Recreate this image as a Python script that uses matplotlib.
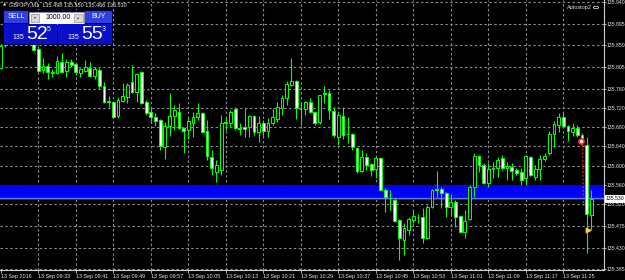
import matplotlib
matplotlib.use("Agg")
import matplotlib.pyplot as plt
from matplotlib.patches import Rectangle, Circle

# ---------------- data ----------------
time_labels = ["13 Sep 2016", "13 Sep 09:33", "13 Sep 09:41", "13 Sep 09:49", "13 Sep 09:57",
               "13 Sep 10:05", "13 Sep 10:13", "13 Sep 10:21", "13 Sep 10:29", "13 Sep 10:37",
               "13 Sep 10:45", "13 Sep 10:53", "13 Sep 11:01", "13 Sep 11:09", "13 Sep 11:17",
               "13 Sep 11:25"]
time_label_bars = [0, 8, 16, 24, 32, 40, 48, 56, 64, 72, 80, 88, 96, 104, 112, 120]

price_ticks = [135.940, 135.895, 135.850, 135.805, 135.760, 135.720, 135.680,
               135.640, 135.600, 135.560, 135.520, 135.475, 135.430, 135.385]

opens = [135.803, 135.851, 135.866, 135.874, 135.868, 135.862, 135.876, 135.859, 135.842, 135.799,
         135.807, 135.795, 135.792, 135.815, 135.797, 135.815, 135.811, 135.792, 135.797, 135.803,
         135.786, 135.799, 135.765, 135.732, 135.732, 135.703, 135.734, 135.743, 135.774, 135.753,
         135.795, 135.732, 135.712, 135.701, 135.695, 135.639, 135.682, 135.703, 135.712, 135.678,
         135.674, 135.689, 135.701, 135.709, 135.672, 135.618, 135.587, 135.591, 135.689, 135.689,
         135.718, 135.678, 135.680, 135.680, 135.703, 135.670, 135.689, 135.672, 135.689, 135.697,
         135.720, 135.741, 135.768, 135.776, 135.718, 135.718, 135.732, 135.712, 135.691, 135.749,
         135.751, 135.714, 135.660, 135.703, 135.666, 135.666, 135.637, 135.589, 135.618, 135.604,
         135.593, 135.616, 135.550, 135.533, 135.529, 135.487, 135.446, 135.467, 135.487, 135.493,
         135.493, 135.450, 135.514, 135.550, 135.552, 135.543, 135.514, 135.525, 135.496, 135.462,
         135.489, 135.556, 135.620, 135.601, 135.564, 135.593, 135.595, 135.616, 135.595, 135.597,
         135.591, 135.587, 135.574, 135.618, 135.577, 135.593, 135.614, 135.626, 135.666, 135.685,
         135.701, 135.682, 135.670, 135.678, 135.664, 135.643, 135.498]
highs = [135.853, 135.872, 135.880, 135.884, 135.878, 135.882, 135.890, 135.865, 135.849, 135.824,
         135.813, 135.801, 135.828, 135.834, 135.822, 135.822, 135.813, 135.803, 135.819, 135.815,
         135.805, 135.803, 135.774, 135.745, 135.734, 135.743, 135.772, 135.772, 135.809, 135.792,
         135.797, 135.736, 135.720, 135.709, 135.697, 135.691, 135.751, 135.726, 135.730, 135.680,
         135.699, 135.712, 135.730, 135.712, 135.695, 135.633, 135.612, 135.705, 135.701, 135.716,
         135.722, 135.689, 135.720, 135.705, 135.705, 135.703, 135.695, 135.699, 135.720, 135.732,
         135.747, 135.776, 135.824, 135.778, 135.732, 135.734, 135.741, 135.714, 135.747, 135.765,
         135.757, 135.722, 135.712, 135.722, 135.701, 135.668, 135.639, 135.633, 135.626, 135.606,
         135.618, 135.618, 135.554, 135.550, 135.533, 135.489, 135.481, 135.493, 135.508, 135.500,
         135.512, 135.518, 135.552, 135.589, 135.556, 135.545, 135.541, 135.529, 135.498, 135.508,
         135.560, 135.626, 135.622, 135.606, 135.606, 135.608, 135.618, 135.622, 135.608, 135.606,
         135.595, 135.595, 135.622, 135.620, 135.601, 135.622, 135.626, 135.672, 135.693, 135.709,
         135.712, 135.685, 135.689, 135.685, 135.668, 135.660, 135.550]
lows = [135.801, 135.846, 135.860, 135.862, 135.850, 135.858, 135.866, 135.838, 135.795, 135.792,
        135.780, 135.784, 135.790, 135.792, 135.784, 135.805, 135.788, 135.784, 135.795, 135.784,
        135.780, 135.759, 135.730, 135.722, 135.699, 135.699, 135.732, 135.730, 135.751, 135.732,
        135.728, 135.705, 135.689, 135.682, 135.633, 135.614, 135.662, 135.674, 135.676, 135.626,
        135.655, 135.660, 135.695, 135.668, 135.612, 135.581, 135.566, 135.581, 135.674, 135.680,
        135.674, 135.664, 135.660, 135.660, 135.664, 135.649, 135.660, 135.660, 135.685, 135.691,
        135.705, 135.726, 135.765, 135.697, 135.685, 135.705, 135.709, 135.685, 135.687, 135.730,
        135.697, 135.660, 135.643, 135.655, 135.647, 135.633, 135.585, 135.587, 135.591, 135.579,
        135.574, 135.547, 135.504, 135.508, 135.483, 135.404, 135.415, 135.456, 135.481, 135.481,
        135.440, 135.448, 135.512, 135.535, 135.512, 135.493, 135.496, 135.473, 135.460, 135.450,
        135.487, 135.535, 135.587, 135.562, 135.556, 135.574, 135.577, 135.591, 135.570, 135.570,
        135.581, 135.560, 135.560, 135.579, 135.570, 135.570, 135.610, 135.622, 135.639, 135.670,
        135.680, 135.651, 135.662, 135.660, 135.643, 135.419, 135.466]
closes = [135.849, 135.866, 135.874, 135.868, 135.862, 135.876, 135.860, 135.840, 135.797, 135.807,
          135.795, 135.792, 135.817, 135.795, 135.815, 135.809, 135.795, 135.801, 135.805, 135.786,
          135.801, 135.765, 135.732, 135.734, 135.701, 135.736, 135.745, 135.768, 135.753, 135.790,
          135.730, 135.709, 135.701, 135.693, 135.641, 135.682, 135.703, 135.716, 135.678, 135.672,
          135.693, 135.701, 135.709, 135.670, 135.620, 135.595, 135.601, 135.689, 135.691, 135.712,
          135.678, 135.676, 135.676, 135.703, 135.670, 135.689, 135.672, 135.689, 135.701, 135.722,
          135.741, 135.770, 135.776, 135.720, 135.717, 135.732, 135.712, 135.689, 135.747, 135.751,
          135.716, 135.664, 135.705, 135.664, 135.665, 135.639, 135.589, 135.618, 135.601, 135.591,
          135.616, 135.550, 135.535, 135.532, 135.485, 135.450, 135.471, 135.489, 135.496, 135.494,
          135.450, 135.514, 135.550, 135.552, 135.543, 135.514, 135.525, 135.493, 135.462, 135.485,
          135.556, 135.620, 135.601, 135.564, 135.593, 135.595, 135.612, 135.595, 135.599, 135.589,
          135.585, 135.570, 135.620, 135.581, 135.593, 135.614, 135.620, 135.666, 135.687, 135.701,
          135.682, 135.672, 135.678, 135.664, 135.647, 135.500, 135.530]

band_low, band_high = 135.529, 135.560
current_price = 135.530
trade_open_bar, trade_open_price = 124, 135.651
trade_close_bar, trade_close_price = 125, 135.467

# ---------------- figure ----------------
W, H = 625, 280
fig = plt.figure(figsize=(W / 100, H / 100), dpi=100)
fig.patch.set_facecolor("black")
ax = fig.add_axes([0 / W, 10 / H, 604 / W, 270 / H])
ax.set_facecolor("black")

n = len(opens)
ax.set_xlim(-0.17, 128.68)
ax.set_ylim(135.3835, 135.944)

grid_col = "#8c8c8c"
dash = (0, (2.2, 2.2))
for v in price_ticks:
    ax.axhline(v, color=grid_col, lw=0.8, ls=dash, zorder=1)
for b in time_label_bars[1:]:
    ax.axvline(b, color=grid_col, lw=0.8, ls=dash, zorder=1)

ax.axhspan(band_low, band_high, color="#0000ff", zorder=2, lw=0)
ax.axhline(current_price + 0.002, color="#5577ff", lw=1.0, zorder=2)

lime = "#00ff00"
xs = list(range(n))
ax.vlines(xs, lows, highs, color=lime, lw=0.8, zorder=3)
bottoms = [min(o, c) for o, c in zip(opens, closes)]
heights = [max(abs(c - o), 0.0004) for o, c in zip(opens, closes)]
faces = ["white" if c < o else "black" for o, c in zip(opens, closes)]
ax.bar(xs, heights, bottom=bottoms, width=0.6, color=faces, edgecolor=lime,
       linewidth=0.75, zorder=4)

# trade lines / markers
ax.plot([trade_open_bar + 0.1, trade_open_bar + 0.3], [trade_open_price, trade_close_price + 0.05],
        color="#ff2020", lw=0.9, ls=(0, (1.5, 1.5)), zorder=5)
ax.scatter([trade_open_bar - 0.2], [trade_open_price], s=14, facecolor="white",
           edgecolor="#ff2020", linewidth=1.2, zorder=6)
ax.scatter([trade_close_bar + 0.2], [trade_close_price], s=10, marker=">", color="#ffcc33", zorder=6)

for s in ["top", "left"]:
    ax.spines[s].set_visible(False)
for s in ["bottom", "right"]:
    ax.spines[s].set_color("#d0d0d0")
    ax.spines[s].set_linewidth(0.8)

font = "Liberation Sans"
ax.yaxis.tick_right()
ax.set_yticks(price_ticks)
ax.set_yticklabels([f"{v:.3f}" for v in price_ticks])
ax.set_xticks(time_label_bars)
ax.set_xticklabels(time_labels)
ax.tick_params(axis="y", colors="#d0d0d0", length=1.6, width=0.6, pad=0.4, labelsize=3.7)
ax.tick_params(axis="x", colors="#d0d0d0", length=2.2, width=0.6, pad=1.0, labelsize=3.9)
for lab in ax.get_yticklabels():
    lab.set_fontfamily(font)
    lab.set_color("#e6e6e6")
for lab in ax.get_xticklabels():
    lab.set_fontfamily(font)
    lab.set_color("#e6e6e6")
    lab.set_horizontalalignment("left")

# current price box
def fx(x):
    return x / W


def fy(y):
    return 1 - y / H


fig.add_artist(Rectangle((fx(605), fy(202.5)), 20 / W, 8 / H, transform=fig.transFigure,
                         facecolor="white", edgecolor="none", zorder=10))
fig.text(fx(606), fy(198.5), f"{current_price:.3f}", color="black", fontsize=3.7, family=font,
         va="center", ha="left", zorder=11)

# header text
fig.text(fx(3), fy(5), "\u25b2", color="#e6e6e6", fontsize=3, va="center", ha="left")
fig.text(fx(9), fy(5), "GBPJPY,M1  135.498 135.550 135.466 135.530", color="#e6e6e6",
         fontsize=4.0, family=font, va="center", ha="left")
fig.text(fx(567), fy(7.5), "Autostop2", color="#e0e0e0", fontsize=4.0, family=font,
         va="center", ha="left")
fig.add_artist(Circle((fx(596), fy(7.5)), 2.6 / W, transform=fig.transFigure, facecolor="none",
                      edgecolor="#d0d0d0", lw=0.6))

# one-click trading panel
def rect(x0, y0, x1, y1, fc, ec="none", lw=0.6, z=10):
    fig.add_artist(Rectangle((fx(x0), fy(y1)), (x1 - x0) / W, (y1 - y0) / H,
                             transform=fig.transFigure, facecolor=fc, edgecolor=ec, lw=lw,
                             zorder=z))


rect(3, 10, 113, 45, "#00003a")
rect(4, 11, 28, 23, "#2f3fe0")
rect(85, 11, 112, 23, "#2f3fe0")
rect(29, 12, 84, 23.5, "white", ec="#9090a0")
rect(31, 13.5, 39, 22, "#d8d8d8", ec="#a0a0a0")
rect(74, 13.5, 83, 22, "#d8d8d8", ec="#a0a0a0")
rect(4, 24, 57, 44, "#0a10c8")
rect(58, 24, 112, 44, "#0a10c8")

fig.text(fx(16), fy(17), "SELL", color="white", fontsize=5, family=font, ha="center", va="center", zorder=12)
fig.text(fx(98.5), fy(17), "BUY", color="white", fontsize=5, family=font, ha="center", va="center", zorder=12)
fig.text(fx(58), fy(17.5), "1000.00", color="black", fontsize=5, family=font, ha="center", va="center", zorder=12)
fig.text(fx(35), fy(17.5), "\u25be", color="#404040", fontsize=3, ha="center", va="center", zorder=12)
fig.text(fx(78.5), fy(17.5), "\u25b4", color="#404040", fontsize=3, ha="center", va="center", zorder=12)

fig.text(fx(12.5), fy(37.5), "135", color="white", fontsize=5, family=font, ha="left", va="center", zorder=12)
fig.text(fx(26), fy(34.5), "52", color="white", fontsize=14, family=font, ha="left", va="center", zorder=12)
fig.text(fx(47), fy(29.5), "5", color="white", fontsize=5, family=font, ha="left", va="center", zorder=12)
fig.text(fx(67.5), fy(37.5), "135", color="white", fontsize=5, family=font, ha="left", va="center", zorder=12)
fig.text(fx(81), fy(34.5), "55", color="white", fontsize=14, family=font, ha="left", va="center", zorder=12)
fig.text(fx(102), fy(29.5), "3", color="white", fontsize=5, family=font, ha="left", va="center", zorder=12)

fig.savefig("out.png", dpi=100, facecolor="black")
